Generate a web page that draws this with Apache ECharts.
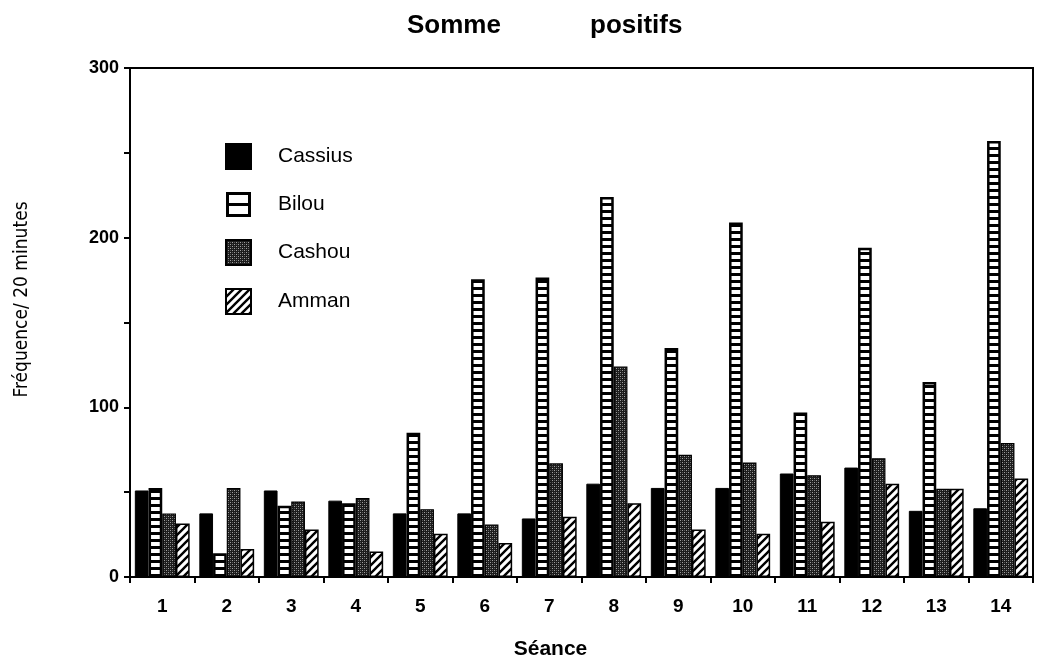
<!DOCTYPE html>
<html>
<head>
<meta charset="utf-8">
<script src="https://cdn.jsdelivr.net/npm/echarts@6/dist/echarts.min.js"></script>
<style>
html,body{margin:0;padding:0;background:#fff;}
#chart{width:1039px;height:661px;}
</style>
</head>
<body>
<div id="chart"></div>
<script>
// ---- data ----
const categories = ['1','2','3','4','5','6','7','8','9','10','11','12','13','14'];
const seriesNames = ['Cassius','Bilou','Cashou','Amman'];
const cassius = [51, 37.5, 51, 45, 37.5, 37.5, 34.5, 55, 52.5, 52.5, 61, 64.5, 39, 40.5];
const bilou   = [52.5, 14, 42, 43.5, 85, 175.5, 176.5, 224, 135, 209, 97, 194, 115, 257];
const cashou  = [37.5, 52.5, 44.5, 46.5, 40, 31, 67, 124, 72, 67.5, 60, 70, 52, 79];
const amman   = [31.5, 16.5, 28, 15, 25.5, 20, 35.5, 43.5, 28, 25.5, 32.5, 55, 52, 58];
const yTicks = [0, 100, 200, 300];

// ---- patterns ----
function makeCanvas(w, h, draw){
  const c = document.createElement('canvas');
  c.width = w; c.height = h;
  draw(c.getContext('2d'), w, h);
  return c;
}
const stripePat = makeCanvas(8, 7, (ctx, w, h) => {
  ctx.fillStyle = '#fff'; ctx.fillRect(0,0,w,h);
  ctx.fillStyle = '#000'; ctx.fillRect(0,0,w,3);
});
const stipplePat = makeCanvas(4, 4, (ctx, w, h) => {
  ctx.fillStyle = '#1c1c1c'; ctx.fillRect(0,0,w,h);
  ctx.fillStyle = '#a0a0a0';
  ctx.fillRect(0,0,1,1); ctx.fillRect(2,2,1,1);
  ctx.fillStyle = '#5a5a5a';
  ctx.fillRect(2,0,1,1); ctx.fillRect(0,2,1,1);
});
const hatchPat = makeCanvas(8, 8, (ctx, w, h) => {
  ctx.fillStyle = '#fff'; ctx.fillRect(0,0,w,h);
  ctx.strokeStyle = '#000'; ctx.lineWidth = 2.4;
  ctx.beginPath();
  ctx.moveTo(-2, 10); ctx.lineTo(10, -2);
  ctx.moveTo(-6, 6); ctx.lineTo(6, -6);
  ctx.moveTo(2, 14); ctx.lineTo(14, 2);
  ctx.stroke();
});

const font = 'Arial, "Liberation Sans", Helvetica, sans-serif';

const chart = echarts.init(document.getElementById('chart'), null, {renderer:'canvas'});

function barSeries(name, data, color, bw){
  return {
    name: name, type: 'bar', data: data,
    barGap: '0%', barCategoryGap: '15%',
    itemStyle: { color: color, borderColor: '#000', borderWidth: bw },
    emphasis: { disabled: true },
    animation: false
  };
}

const option = {
  backgroundColor: '#fff',
  animation: false,
  title: [
    { text: 'Somme', left: 402, top: 8, textStyle: { fontFamily: font, fontWeight: 'bold', fontSize: 26, color: '#000' } },
    { text: 'positifs', left: 585, top: 8, textStyle: { fontFamily: font, fontWeight: 'bold', fontSize: 26, color: '#000' } }
  ],
  legend: {
    orient: 'vertical', left: 225, top: 143, padding: 0,
    itemWidth: 25, itemHeight: 25, itemGap: 22,
    textStyle: { fontFamily: font, fontSize: 21, color: '#000', padding: [0,0,0,22] },
    data: [
      { name: 'Cassius', icon: 'rect' },
      { name: 'Bilou', icon: 'path://M0,0H25V25H0Z M3,3V11H22V3Z M3,14V22H22V14Z', itemStyle: { color: '#000', borderWidth: 0 } },
      { name: 'Cashou', icon: 'rect' },
      { name: 'Amman', icon: 'rect' }
    ]
  },
  grid: { left: 130, right: 6, top: 68, bottom: 84, show: true, borderColor: '#000', borderWidth: 2, backgroundColor: 'transparent', containLabel: false, outerBoundsMode: 'none' },
  xAxis: {
    type: 'category', data: categories,
    axisLine: { lineStyle: { color: '#000', width: 2 } },
    axisTick: { show: true, alignWithLabel: false, length: 6, lineStyle: { color: '#000', width: 2 } },
    axisLabel: { margin: 20, fontFamily: font, fontSize: 19, fontWeight: 'bold', color: '#000' },
    name: 'Séance', nameLocation: 'middle', nameGap: 62,
    nameTextStyle: { fontFamily: font, fontSize: 21, fontWeight: 'bold', color: '#000', padding: [0, 62, 0, 0] }
  },
  yAxis: {
    type: 'value', min: 0, max: 300, interval: 50,
    axisLine: { show: true, lineStyle: { color: '#000', width: 2 } },
    axisTick: { show: true, length: 6, lineStyle: { color: '#000', width: 2 } },
    splitLine: { show: false },
    axisLabel: {
      margin: 11, fontFamily: font, fontSize: 18, fontWeight: 'bold', color: '#000',
      formatter: v => yTicks.indexOf(v) >= 0 ? String(v) : ''
    },
    name: 'Fréquence/ 20 minutes', nameLocation: 'middle', nameGap: 98,
    nameTextStyle: { fontFamily: '"Liberation Sans Narrow", "DejaVu Sans Condensed", Arial, sans-serif', fontSize: 19, color: '#000', padding: [0,0,0,46] }
  },
  series: [
    barSeries(seriesNames[0], cassius, '#000', 1),
    barSeries(seriesNames[1], bilou, { image: stripePat, repeat: 'repeat' }, 2.5),
    barSeries(seriesNames[2], cashou, { image: stipplePat, repeat: 'repeat' }, 1.2),
    barSeries(seriesNames[3], amman, { image: hatchPat, repeat: 'repeat' }, 1.5)
  ]
};
chart.setOption(option);
</script>
</body>
</html>
